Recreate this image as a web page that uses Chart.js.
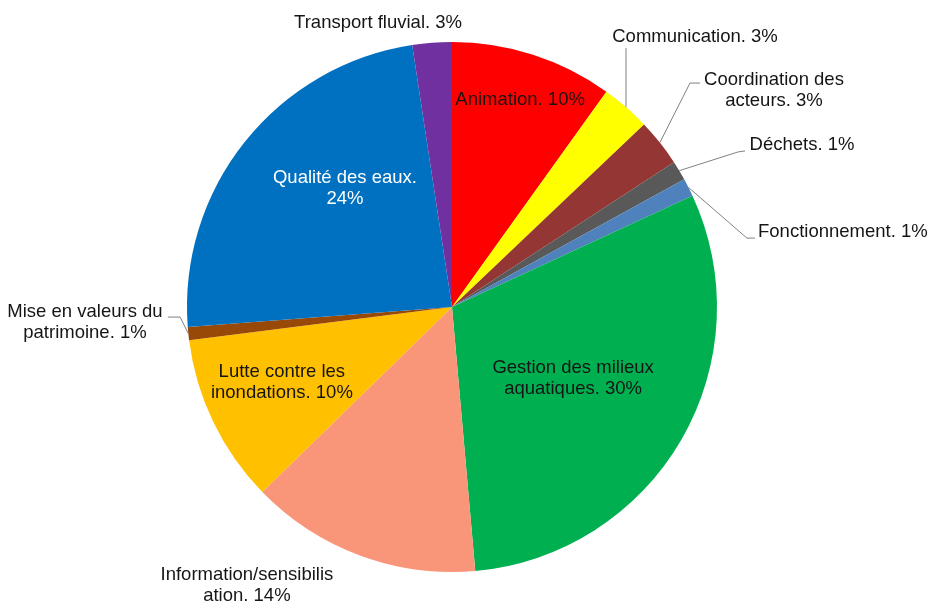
<!DOCTYPE html>
<html><head><meta charset="utf-8">
<script src="https://cdn.jsdelivr.net/npm/chart.js@4/dist/chart.umd.min.js"></script>
<style>html,body{margin:0;padding:0;background:#fff;}#wrap{width:933px;height:603px;}</style>
</head><body><div id="wrap"><canvas id="c" width="933" height="603"></canvas></div>
<script>
// ---- data ----
const categories = ["Animation", "Communication", "Coordination des acteurs", "Déchets", "Fonctionnement",
  "Gestion des milieux aquatiques", "Information/sensibilisation", "Lutte contre les inondations",
  "Mise en valeurs du patrimoine", "Qualité des eaux", "Transport fluvial"];
const values = [9.9, 3.0, 2.9, 1.2, 1.1, 30.5, 14.1, 10.3, 0.8, 23.8, 2.4];
const percentLabels = ["10%", "3%", "3%", "1%", "1%", "30%", "14%", "10%", "1%", "24%", "3%"];
const colors = ["#FF0000", "#FFFF00", "#943634", "#595959", "#4F81BD", "#00B050", "#F9967A", "#FFC000", "#984807", "#0070C0", "#7030A0"];

// ---- label layout (positions in radius units from pie centre) ----
const labelLayout = [
  {pos: [0.257, -0.781], brk: null},
  {pos: [0.917, -1.019], brk: null, line: [[null, -0.977]]},
  {pos: [1.215, -0.819], brk: 16, line: [[0.898, -0.845], [0.936, -0.845]]},
  {pos: [1.321, -0.611], brk: null, line: [[1.079, -0.585], [1.106, -0.589]]},
  {pos: [1.475, -0.283], brk: null, line: [[1.113, -0.260], [1.143, -0.260]]},
  {pos: [0.457, 0.268], brk: 19},
  {pos: [-0.774, 1.049], brk: 22},
  {pos: [-0.642, 0.283], brk: 16},
  {pos: [-1.385, 0.060], brk: 18, line: [[-1.026, 0.038], [-1.072, 0.038]]},
  {pos: [-0.404, -0.449], brk: 17, color: "#FFFFFF"},
  {pos: [-0.279, -1.072], brk: null}
];

const labelPlugin = {
  id: 'pieLabels',
  afterDatasetsDraw(chart) {
    const ctx = chart.ctx;
    const arcs = chart.getDatasetMeta(0).data;
    ctx.save();
    arcs.forEach((arc, i) => {
      const cx = arc.x, cy = arc.y, r = arc.outerRadius;
      const L = labelLayout[i];
      if (L.line) {
        const mid = (arc.startAngle + arc.endAngle) / 2;
        const sx = cx + Math.cos(mid) * r, sy = cy + Math.sin(mid) * r;
        ctx.beginPath();
        ctx.moveTo(sx, sy);
        L.line.forEach(p => ctx.lineTo(p[0] == null ? sx : cx + p[0] * r, cy + p[1] * r));
        ctx.strokeStyle = '#808080';
        ctx.lineWidth = 1;
        ctx.stroke();
      }
      const full = categories[i] + '. ' + percentLabels[i];
      const lines = L.brk == null ? [full] : [full.slice(0, L.brk).trim(), full.slice(L.brk).trim()];
      ctx.font = '18.5px "Liberation Sans", Arial, sans-serif';
      ctx.fillStyle = L.color || '#151515';
      ctx.textAlign = 'center';
      ctx.textBaseline = 'middle';
      const lh = 21;
      const x = cx + L.pos[0] * r, y = cy + L.pos[1] * r;
      lines.forEach((t, k) => {
        ctx.fillText(t, x, y + (k - (lines.length - 1) / 2) * lh);
      });
    });
    ctx.restore();
  }
};

new Chart(document.getElementById('c'), {
  type: 'pie',
  data: {
    labels: categories,
    datasets: [{data: values, backgroundColor: colors, borderWidth: 0}]
  },
  options: {
    responsive: false,
    animation: false,
    devicePixelRatio: 1,
    layout: {padding: {left: 187, right: 216, top: 42, bottom: 31}},
    plugins: {legend: {display: false}, tooltip: {enabled: false}}
  },
  plugins: [labelPlugin]
});
</script>
</body></html>
